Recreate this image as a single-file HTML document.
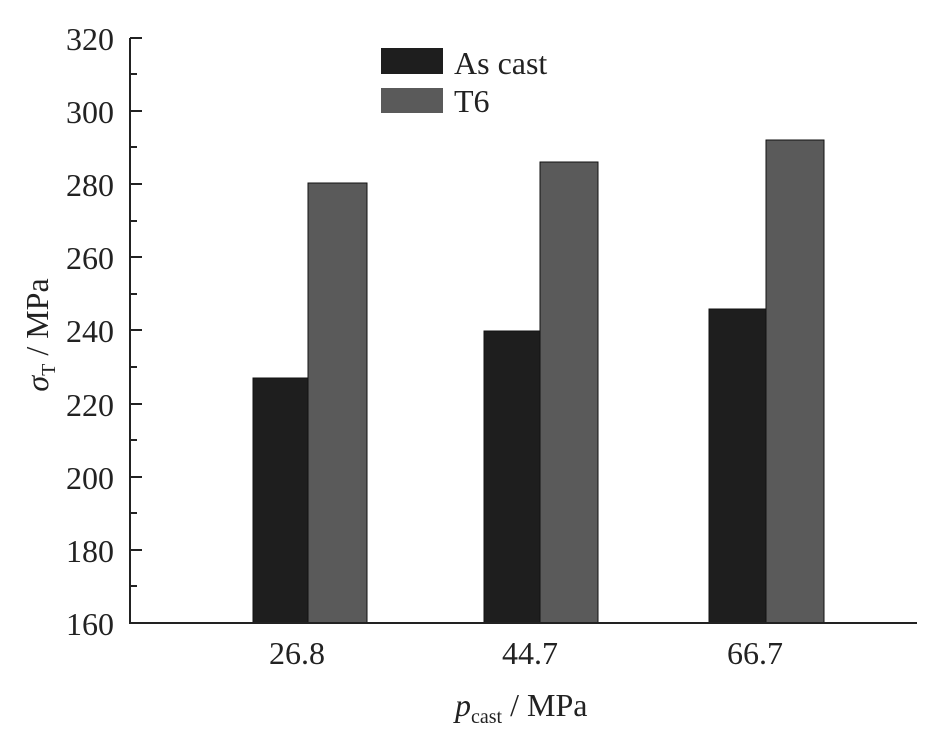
<!DOCTYPE html>
<html><head><style>body{margin:0;background:#fff}svg{display:block}</style></head><body>
<svg width="932" height="752" xmlns="http://www.w3.org/2000/svg" font-family="Liberation Serif, serif">
<g fill="#1e1e1e" stroke="#111" stroke-width="1">
<rect x="253" y="378" width="55" height="245"/>
<rect x="484" y="331" width="56" height="292"/>
<rect x="709" y="309" width="57" height="314"/>
</g>
<g fill="#5a5a5a" stroke="#111" stroke-width="1">
<rect x="308" y="183" width="59" height="440"/>
<rect x="540" y="162" width="58" height="461"/>
<rect x="766" y="140" width="58" height="483"/>
</g>
<g stroke="#222" stroke-width="2" fill="none">
<line x1="130" y1="38" x2="130" y2="623"/>
<line x1="129" y1="623" x2="917" y2="623"/>
<path d="M130 38h12M130 111h12M130 184h12M130 257h12M130 330h12M130 404h12M130 477h12M130 550h12M130 74h7M130 147h7M130 221h7M130 294h7M130 367h7M130 440h7M130 513h7M130 586h7"/>
</g>
<g font-size="32" fill="#222" text-anchor="end">
<text x="114" y="50">320</text><text x="114" y="123">300</text><text x="114" y="196">280</text><text x="114" y="269">260</text>
<text x="114" y="342">240</text><text x="114" y="416">220</text><text x="114" y="489">200</text><text x="114" y="562">180</text><text x="114" y="635">160</text>
</g>
<g font-size="32" fill="#222" text-anchor="middle">
<text x="297" y="664">26.8</text><text x="530" y="664">44.7</text><text x="755" y="664">66.7</text>
</g>
<text x="455" y="716" font-size="32" fill="#222"><tspan font-style="italic">p</tspan><tspan font-size="20" dy="7">cast</tspan><tspan dy="-7"> / MPa</tspan></text>
<text transform="translate(48,335) rotate(-90)" text-anchor="middle" font-size="32" fill="#222"><tspan font-style="italic">σ</tspan><tspan font-size="20" dy="7">T</tspan><tspan dy="-7"> / MPa</tspan></text>
<rect x="381" y="48" width="62" height="26" fill="#1e1e1e"/>
<rect x="381" y="88" width="62" height="25" fill="#5a5a5a"/>
<text x="454" y="74" font-size="32" fill="#222">As cast</text>
<text x="454" y="112" font-size="32" fill="#222">T6</text>
</svg>
</body></html>
